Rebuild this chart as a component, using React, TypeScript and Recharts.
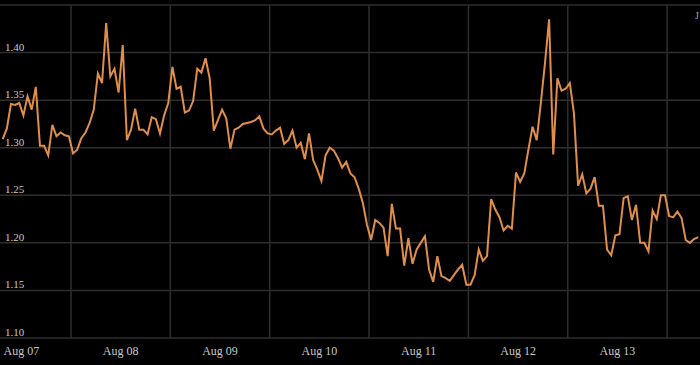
import { LineChart, Line, XAxis, YAxis, CartesianGrid, ReferenceLine } from 'recharts'

const SERIF = '"Liberation Serif", "Times New Roman", serif'

// hourly readings, first one at Aug 07 07:30 (hours counted from Aug 07 00:00)
const START_HOUR = 7.5
const rates = [
    1.309, 1.320, 1.346, 1.345, 1.347, 1.334, 1.354, 1.340, 1.364, 1.302,
    1.302, 1.292, 1.324, 1.312, 1.316, 1.313, 1.312, 1.294, 1.298, 1.310,
    1.316, 1.326, 1.340, 1.378, 1.368, 1.431, 1.375, 1.383, 1.358, 1.408,
    1.308, 1.319, 1.341, 1.319, 1.319, 1.314, 1.332, 1.330, 1.315, 1.334,
    1.347, 1.385, 1.362, 1.364, 1.337, 1.339, 1.349, 1.383, 1.379, 1.394,
    1.373, 1.318, 1.329, 1.340, 1.331, 1.299, 1.319, 1.321, 1.325, 1.326,
    1.327, 1.329, 1.333, 1.320, 1.315, 1.314, 1.318, 1.321, 1.304, 1.308,
    1.318, 1.300, 1.305, 1.288, 1.315, 1.287, 1.277, 1.265, 1.292, 1.300,
    1.297, 1.289, 1.279, 1.285, 1.273, 1.269, 1.257, 1.242, 1.219, 1.203,
    1.224, 1.221, 1.216, 1.186, 1.241, 1.215, 1.215, 1.176, 1.205, 1.178,
    1.193, 1.200, 1.207, 1.172, 1.159, 1.186, 1.165, 1.163, 1.160, 1.166,
    1.172, 1.177, 1.156, 1.156, 1.166, 1.193, 1.181, 1.186, 1.246, 1.235,
    1.227, 1.213, 1.218, 1.215, 1.274, 1.264, 1.273, 1.298, 1.322, 1.308,
    1.347, 1.389, 1.435, 1.293, 1.373, 1.360, 1.362, 1.368, 1.336, 1.260,
    1.272, 1.252, 1.257, 1.269, 1.239, 1.239, 1.193, 1.187, 1.208, 1.209,
    1.247, 1.249, 1.224, 1.240, 1.200, 1.200, 1.191, 1.234, 1.225, 1.250,
    1.250, 1.228, 1.227, 1.233, 1.226, 1.203, 1.200, 1.204, 1.206,
]

const dayLabels = ['Aug 07', 'Aug 08', 'Aug 09', 'Aug 10', 'Aug 11', 'Aug 12', 'Aug 13']
const labelHours = [12, 36, 60, 84, 108, 132, 156]
const dayBreaks = [24, 48, 72, 96, 120, 144, 168]
const yTicks = [1.1, 1.15, 1.2, 1.25, 1.3, 1.35, 1.4, 1.45]

const data = rates.map((rate, i) => ({ t: START_HOUR + i, rate }))

const GRID = '#2e2e2e'
const TEXT = '#c8c8c8'

function YTick({ y, payload }: any) {
    if (payload.value > 1.42) return null
    return (
        <text x={5} y={y - 2} fill={TEXT} fontSize={11} fontFamily={SERIF} textAnchor="start">
            {payload.value.toFixed(2)}
        </text>
    )
}

function XTick({ x, payload }: any) {
    const idx = labelHours.indexOf(payload.value)
    return (
        <text x={x} y={355} fill={TEXT} fontSize={12} fontFamily={SERIF} textAnchor="middle">
            {dayLabels[idx]}
        </text>
    )
}

export default function App() {
    return (
        <div style={{ position: 'absolute', left: 0, top: 0, width: 700, height: 365, backgroundColor: '#000' }}>
            <LineChart width={700} height={365} data={data} margin={{ top: 5, right: 0, left: 0, bottom: 0 }}>
                <CartesianGrid stroke={GRID} strokeWidth={1.5} vertical={false} />
                {dayBreaks.map(h => (
                    <ReferenceLine key={h} x={h} stroke={GRID} strokeWidth={1.5} />
                ))}
                <XAxis
                    dataKey="t"
                    type="number"
                    domain={[6.85, 175.95]}
                    allowDataOverflow
                    ticks={labelHours}
                    tick={<XTick />}
                    axisLine={false}
                    tickLine={false}
                    height={27}
                />
                <YAxis
                    type="number"
                    domain={[1.1, 1.45]}
                    allowDataOverflow
                    ticks={yTicks}
                    interval={0}
                    tick={<YTick />}
                    axisLine={false}
                    tickLine={false}
                    mirror
                    width={40}
                />
                <Line
                    type="linear"
                    dataKey="rate"
                    stroke="#e08e4a"
                    strokeWidth={2}
                    dot={false}
                    isAnimationActive={false}
                />
            </LineChart>
            <div
                style={{
                    position: 'absolute', left: 695, top: 10, fontSize: 10,
                    fontFamily: SERIF, color: '#aaa', lineHeight: '12px',
                }}
            >
                J
            </div>
        </div>
    )
}
